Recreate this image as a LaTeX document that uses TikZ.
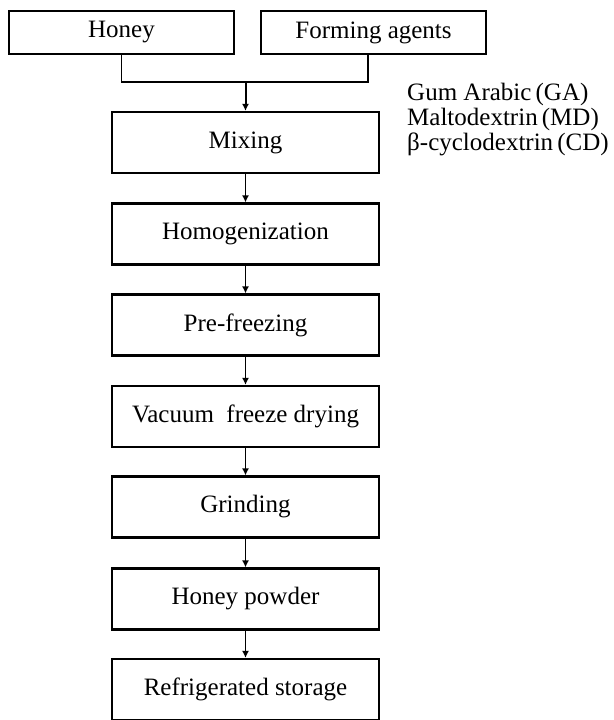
\documentclass[tikz,border=0pt]{standalone}
\usepackage{fontspec}
\setmainfont{Liberation Serif}
\usetikzlibrary{arrows.meta}
\tikzset{
  stepbox/.style={draw, rectangle, line width=2.2pt, minimum width=267pt, minimum height=61pt, inner sep=0pt},
  inbox/.style={draw, rectangle, line width=2.2pt, minimum width=225pt, minimum height=43pt, inner sep=0pt},
  flow/.style={line width=1.5pt, -{Latex[length=7pt,width=7pt]}},
  feed/.style={line width=1.3pt}
}
\begin{document}
\begin{tikzpicture}[x=1pt, y=-1pt, font=\fontsize{25}{25}\selectfont]
    \useasboundingbox (0,0) rectangle (613,720);
    \node[inbox] (honey) at (121.5,32.5) {Honey};
    \node[inbox] (agents) at (373.5,32.5) {Forming agents};
    \node[anchor=west, align=left, inner sep=0pt] (types) at (407,120) {Gum Arabic\,(GA)\\Maltodextrin\,(MD)\\β-cyclodextrin\,(CD)};
    \coordinate (join) at (245.5,82);
    \node[stepbox] (mix) at (245.5,142.5) {Mixing};
    \node[stepbox] (homo) at (245.5,234) {Homogenization};
    \node[stepbox] (pre) at (245.5,325) {Pre-freezing};
    \node[stepbox] (vac) at (245.5,416.5) {Vacuum\ \ freeze drying};
    \node[stepbox] (grind) at (245.5,507) {Grinding};
    \node[stepbox] (powder) at (245.5,599) {Honey powder};
    \node[stepbox] (store) at (245.5,689.5) {Refrigerated storage};
    \draw[feed] (honey.south) |- (join);
    \draw[feed] ([xshift=-5.5pt]agents.south) |- (join);
    \draw[flow, line width=2pt] (join) -- (mix);
    \draw[flow] (mix) -- (homo);
    \draw[flow] (homo) -- (pre);
    \draw[flow] (pre) -- (vac);
    \draw[flow] (vac) -- (grind);
    \draw[flow] (grind) -- (powder);
    \draw[flow] (powder) -- (store);
\end{tikzpicture}
\end{document}
